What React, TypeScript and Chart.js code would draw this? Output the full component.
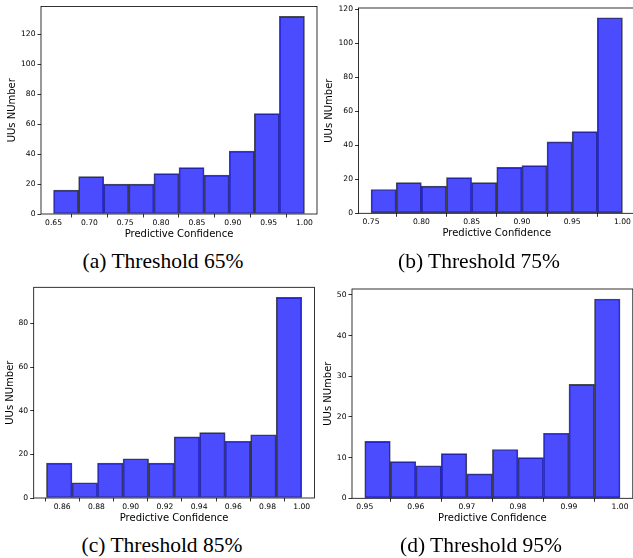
import React, { useEffect, useRef } from 'react';
import { Chart, registerables } from 'chart.js';

Chart.register(...registerables);

// ---- Data ----
const edgesA = [0.65, 0.685, 0.72, 0.755, 0.79, 0.825, 0.86, 0.895, 0.93, 0.965, 1.0];
const countsA = [16, 25, 20, 20, 27, 31, 26, 42, 67, 132];
const xTicksA = [0.65, 0.7, 0.75, 0.8, 0.85, 0.9, 0.95, 1.0];
const yTicksA = [0, 20, 40, 60, 80, 100, 120];

const edgesB = [0.75, 0.775, 0.8, 0.825, 0.85, 0.875, 0.9, 0.925, 0.95, 0.975, 1.0];
const countsB = [14, 18, 16, 21, 18, 27, 28, 42, 48, 115];
const xTicksB = [0.75, 0.8, 0.85, 0.9, 0.95, 1.0];
const yTicksB = [0, 20, 40, 60, 80, 100, 120];

const edgesC = [0.8508, 0.86572, 0.88064, 0.89556, 0.91048, 0.9254, 0.94032, 0.95524, 0.97016, 0.98508, 1.0];
const countsC = [16, 7, 16, 18, 16, 28, 30, 26, 29, 92];
const xTicksC = [0.86, 0.88, 0.9, 0.92, 0.94, 0.96, 0.98, 1.0];
const yTicksC = [0, 20, 40, 60, 80];

const edgesD = [0.95, 0.955, 0.96, 0.965, 0.97, 0.975, 0.98, 0.985, 0.99, 0.995, 1.0];
const countsD = [14, 9, 8, 11, 6, 12, 10, 16, 28, 49];
const xTicksD = [0.95, 0.96, 0.97, 0.98, 0.99, 1.0];
const yTicksD = [0, 10, 20, 30, 40, 50];

const xTitle = 'Predictive Confidence';
const yTitle = 'UUs NUmber';
const captions = ['(a) Threshold 65%', '(b) Threshold 75%', '(c) Threshold 85%', '(d) Threshold 95%'];

type Panel = {
  edges: number[];
  counts: number[];
  xTicks: number[];
  yTicks: number[];
  box: { left: number; top: number; w: number; h: number };
  area: { l: number; t: number; r: number; b: number };
  yTitleOff: number;
  xTitlePad: number;
};

const panels: Panel[] = [
  {
    edges: edgesA, counts: countsA, xTicks: xTicksA, yTicks: yTicksA,
    box: { left: 0, top: 0, w: 320, h: 245 },
    area: { l: 41, t: 6.5, r: 317, b: 214 },
    yTitleOff: 6.5, xTitlePad: 5,
  },
  {
    edges: edgesB, counts: countsB, xTicks: xTicksB, yTicks: yTicksB,
    box: { left: 316, top: 0, w: 324, h: 245 },
    area: { l: 358.5, t: 8, r: 635, b: 213.3 },
    yTitleOff: 7, xTitlePad: 6,
  },
  {
    edges: edgesC, counts: countsC, xTicks: xTicksC, yTicks: yTicksC,
    box: { left: 0, top: 280, w: 320, h: 250 },
    area: { l: 33.7, t: 287.3, r: 314.5, b: 498 },
    yTitleOff: 4, xTitlePad: 6,
  },
  {
    edges: edgesD, counts: countsD, xTicks: xTicksD, yTicks: yTicksD,
    box: { left: 316, top: 280, w: 324, h: 250 },
    area: { l: 352, t: 289, r: 632.8, b: 498.3 },
    yTitleOff: 6.7, xTitlePad: 6,
  },
];

const framePlugin = {
  id: 'frame',
  afterDatasetsDraw(chart: any) {
    const { ctx, chartArea } = chart;
    const { left, top, right, bottom } = chartArea;
    ctx.save();
    ctx.strokeStyle = '#000';
    ctx.lineWidth = 0.8;
    ctx.strokeRect(left, top, right - left, bottom - top);
    ctx.restore();
  },
};

const tickFont = { family: 'DejaVu Sans', size: 7.6 };
const titleFont = { family: 'DejaVu Sans', size: 10 };

function Hist({ p }: { p: Panel }) {
  const ref = useRef<HTMLCanvasElement | null>(null);
  useEffect(() => {
    if (!ref.current) return;
    const { edges, counts, xTicks, yTicks, box, area } = p;
    const lo = edges[0];
    const hi = edges[edges.length - 1];
    const span = hi - lo;
    const xmin = lo - 0.05 * span;
    const xmax = hi + 0.05 * span;
    const ymax = Math.max(...counts) * 1.05;
    const pts = counts.map((c, i) => ({ x: (edges[i] + edges[i + 1]) / 2, y: c }));
    const grid = {
      display: true,
      drawOnChartArea: false,
      drawTicks: true,
      tickLength: 3.5,
      tickColor: '#000',
      tickWidth: 0.8,
    };
    const chart = new Chart(ref.current, {
      type: 'bar',
      data: {
        datasets: [
          {
            data: pts as any,
            backgroundColor: 'rgba(0,0,255,0.7)',
            borderColor: 'rgba(0,0,0,0.7)',
            borderWidth: 1,
            borderSkipped: false,
            barPercentage: 1,
            categoryPercentage: 1,
          },
        ],
      },
      options: {
        responsive: false,
        animation: false,
        devicePixelRatio: 1,
        layout: {
          padding: {
            left: 0,
            top: area.t - box.top,
            right: box.left + box.w - area.r,
            bottom: 0,
          },
        },
        plugins: { legend: { display: false }, tooltip: { enabled: false } },
        scales: {
          x: {
            type: 'linear',
            offset: false,
            min: xmin,
            max: xmax,
            afterBuildTicks: (s: any) => {
              s.ticks = xTicks.map((v) => ({ value: v }));
            },
            afterFit: (s: any) => {
              s.height = box.top + box.h - area.b;
              s.paddingLeft = 0;
              s.paddingRight = 0;
            },
            ticks: {
              callback: (v: any) => Number(v).toFixed(2),
              font: tickFont,
              color: '#000',
              padding: 0.5,
              maxRotation: 0,
              autoSkip: false,
            },
            grid,
            border: { display: false },
            title: {
              display: true,
              text: xTitle,
              font: titleFont,
              color: '#000',
              padding: { top: 0, bottom: p.xTitlePad },
            },
          },
          y: {
            type: 'linear',
            min: 0,
            max: ymax,
            afterBuildTicks: (s: any) => {
              s.ticks = yTicks.map((v) => ({ value: v }));
            },
            afterFit: (s: any) => {
              s.width = area.l - box.left;
              s.paddingTop = 0;
              s.paddingBottom = 0;
            },
            ticks: {
              font: tickFont,
              color: '#000',
              padding: 2,
              autoSkip: false,
            },
            grid,
            border: { display: false },
            title: {
              display: true,
              text: yTitle,
              font: titleFont,
              color: '#000',
              padding: { top: p.yTitleOff, bottom: 0 },
            },
          },
        },
      } as any,
      plugins: [framePlugin],
    });
    return () => chart.destroy();
  }, [p]);
  return (
    <canvas
      ref={ref}
      width={p.box.w}
      height={p.box.h}
      style={{ position: 'absolute', left: p.box.left, top: p.box.top, width: p.box.w, height: p.box.h }}
    />
  );
}

const captionPos = [
  { cx: 163, cy: 261 },
  { cx: 479, cy: 261 },
  { cx: 162, cy: 545 },
  { cx: 481, cy: 545 },
];

export default function App() {
  return (
    <div
      style={{
        position: 'absolute',
        left: 0,
        top: 0,
        width: 633,
        height: 558,
        overflow: 'hidden',
        background: '#fff',
      }}
    >
      {panels.map((p, i) => (
        <Hist key={i} p={p} />
      ))}
      {captions.map((c, i) => (
        <div
          key={'c' + i}
          style={{
            position: 'absolute',
            left: captionPos[i].cx - 150,
            top: captionPos[i].cy - 12,
            width: 300,
            height: 24,
            lineHeight: '24px',
            textAlign: 'center',
            fontFamily: '"Liberation Serif", "Times New Roman", serif',
            fontSize: 21.5,
            color: '#000',
            whiteSpace: 'nowrap',
          }}
        >
          {c}
        </div>
      ))}
    </div>
  );
}
